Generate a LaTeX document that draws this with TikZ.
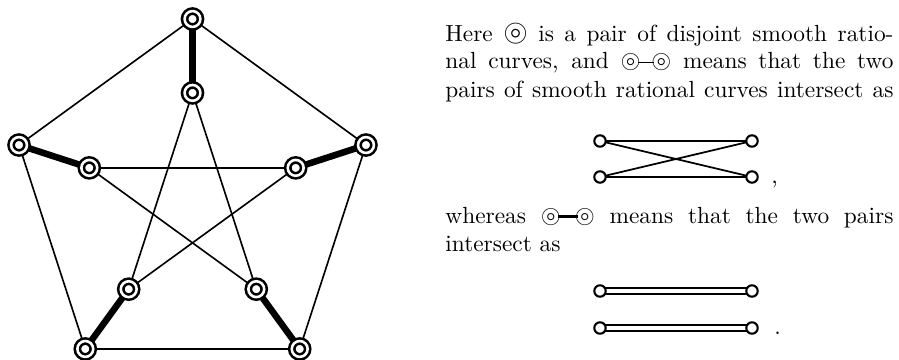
\documentclass[tikz,border=0pt]{standalone}
\usepackage{amssymb}
\usepackage{graphicx}
\usetikzlibrary{backgrounds}
\newcommand{\bigcc}{\scalebox{1.35}{$\circledcirc$}}
\newcommand{\pcirc}{\scalebox{1.1}{$\circledcirc$}}
\newcommand{\thinpair}{\mbox{\pcirc\kern-1.2pt\rule[2.5pt]{7pt}{0.5pt}\kern-1.2pt\pcirc}}
\newcommand{\thickpair}{\mbox{\pcirc\kern-1.2pt\rule[2.05pt]{8.4pt}{1.4pt}\kern-1.2pt\pcirc}}
\begin{document}
\begin{tikzpicture}[x=0.42857pt,y=-0.42857pt,
  vtx/.style={circle,draw,double,fill=white,line width=1.1pt,double distance=1.1pt,minimum size=6.8pt,inner sep=0pt},
  sv/.style={circle,draw,fill=white,line width=0.9pt,minimum size=4.9pt,inner sep=0pt},
  thinedge/.style={line width=0.7pt},
  thickedge/.style={line width=2.8pt},
  crossedge/.style={line width=0.75pt},
  dedge/.style={double,line width=0.8pt,double distance=1.5pt},
  txt/.style={anchor=base west,inner sep=0pt}]
\useasboundingbox (0,0) rectangle (899,360);
% graph
\node[vtx] (O1) at (192.5,19.0) {};
\node[vtx] (O2) at (19.03,145.03) {};
\node[vtx] (O3) at (85.29,348.96) {};
\node[vtx] (O4) at (299.71,348.96) {};
\node[vtx] (O5) at (365.97,145.03) {};
\node[vtx] (I1) at (192.5,92.9) {};
\node[vtx] (I2) at (89.31,167.87) {};
\node[vtx] (I3) at (128.72,289.18) {};
\node[vtx] (I4) at (256.28,289.18) {};
\node[vtx] (I5) at (295.69,167.87) {};
% small diagrams
\node[sv] (A1) at (600,141) {};
\node[sv] (B1) at (752,141) {};
\node[sv] (A2) at (600,177) {};
\node[sv] (B2) at (752,177) {};
\node[sv] (C1) at (600,291) {};
\node[sv] (D1) at (752,291) {};
\node[sv] (C2) at (600,328) {};
\node[sv] (D2) at (752,328) {};
\begin{pgfonlayer}{background}
\draw[thinedge] (O1.center) -- (O2.center) -- (O3.center) -- (O4.center) -- (O5.center) -- (O1.center);
\draw[thickedge] (O1.center) -- (I1.center);
\draw[thickedge] (O2.center) -- (I2.center);
\draw[thickedge] (O3.center) -- (I3.center);
\draw[thickedge] (O4.center) -- (I4.center);
\draw[thickedge] (O5.center) -- (I5.center);
\draw[thinedge] (I1.center) -- (I3.center);
\draw[thinedge] (I1.center) -- (I4.center);
\draw[thinedge] (I2.center) -- (I5.center);
\draw[thinedge] (I2.center) -- (I4.center);
\draw[thinedge] (I3.center) -- (I5.center);
\draw[crossedge] (A1.center) -- (B1.center);
\draw[crossedge] (A2.center) -- (B2.center);
\draw[crossedge] (A1.center) -- (B2.center);
\draw[crossedge] (A2.center) -- (B1.center);
\draw[dedge] (C1.center) -- (D1.center);
\draw[dedge] (C2.center) -- (D2.center);
\end{pgfonlayer}
% text
\node[txt] (L1) at (445,41) {\hbox to 192pt{Here \bigcc{} is a pair of disjoint smooth ratio-}};
\node[txt] (L2) at (445,69) {\hbox to 192pt{nal curves, and \thinpair{} means that the two}};
\node[txt] (L3) at (445,97) {\hbox to 192pt{pairs of smooth rational curves intersect as}};
\node[txt] (comma) at (771,183) {,};
\node[txt] (L4) at (445,223) {\hbox to 192pt{whereas \thickpair{} means that the two pairs}};
\node[txt] (L5) at (445,251) {intersect as};
\node[txt] (period) at (774,334) {.};
\end{tikzpicture}
\end{document}
